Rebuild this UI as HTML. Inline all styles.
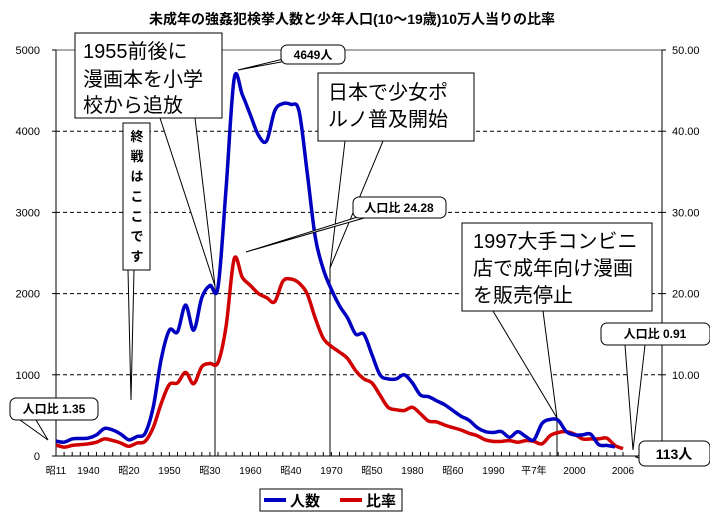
<!DOCTYPE html>
<html><head><meta charset="utf-8"><style>
body{margin:0;background:#fff}
svg{display:block;font-family:"Liberation Sans","Noto Sans CJK JP",sans-serif}
</style></head><body>
<svg id="chart" width="710" height="523" viewBox="0 0 710 523" xmlns="http://www.w3.org/2000/svg">
<text x="352" y="24" text-anchor="middle" font-size="14" font-weight="bold">未成年の強姦犯検挙人数と少年人口(10～19歳)10万人当りの比率</text>
<g id="grid"></g>
<g id="axes"></g>
<g id="series"></g>
<g id="notes"></g>
<g>
<rect x="260" y="489" width="142" height="22" fill="#fff" stroke="#000"/>
<line x1="264" y1="500" x2="286" y2="500" stroke="#0000c0" stroke-width="4"/>
<text x="290" y="506" font-size="15" font-weight="bold">人数</text>
<line x1="340" y1="500" x2="362" y2="500" stroke="#d00000" stroke-width="4"/>
<text x="366" y="506" font-size="15" font-weight="bold">比率</text>
</g>
</svg>
<script>
const years = [];
for (let y = 1936; y <= 2006; y++) years.push(y);
const people = [184,170,210,215,220,260,340,320,270,200,240,280,600,1200,1550,1530,1860,1550,1950,2100,2080,3300,4649,4450,4200,3950,3880,4250,4340,4330,4250,3500,2700,2300,2050,1850,1700,1500,1500,1250,1000,950,950,1000,900,750,730,680,630,560,490,440,350,300,290,300,230,300,240,200,400,450,440,300,260,260,270,140,130,113];
const ratio = [1.35,1.1,1.3,1.4,1.5,1.7,2.1,1.9,1.6,1.2,1.6,1.8,3.5,6.5,8.8,9.0,10.3,8.9,11.0,11.4,11.5,16,24.28,22,21,20,19.5,19.0,21.5,21.8,21.3,20,17,14.5,13.5,12.8,12,10.5,9.5,9.0,7.5,6,5.7,5.6,6.0,5.2,4.3,4.2,3.8,3.5,3.2,2.8,2.5,2.0,1.8,1.8,1.9,1.7,1.9,1.8,1.5,2.5,2.9,3.0,2.7,2.1,2.1,2.1,2.2,1.3,0.91];
const leftTicks = [0,1000,2000,3000,4000,5000];
const rightTicks = ["","10.00","20.00","30.00","40.00","50.00"];
const xLabels = ["昭11","1940","昭20","1950","昭30","1960","昭40","1970","昭50","1980","昭60","1990","平7年","2000","2006"];
const xLabelYears = [1936,1940,1945,1950,1955,1960,1965,1970,1975,1980,1985,1990,1995,2000,2006];
const L=56,R=662,T=50,B=456;
const X = y => 56 + (y-1936)*8.1;
const Y = v => B - v/5000*(B-T);
const YR = v => B - v/50*(B-T);
const NS="http://www.w3.org/2000/svg";
function mk(tag, attrs, parent, text){const e=document.createElementNS(NS,tag);for(const k in attrs)e.setAttribute(k,attrs[k]);if(text!==undefined)e.textContent=text;parent.appendChild(e);return e;}
function smooth(pts){let d='M'+pts[0][0].toFixed(1)+','+pts[0][1].toFixed(1);
  for(let i=0;i<pts.length-1;i++){const p0=pts[Math.max(0,i-1)],p1=pts[i],p2=pts[i+1],p3=pts[Math.min(pts.length-1,i+2)];
    const c1=[p1[0]+(p2[0]-p0[0])/6,p1[1]+(p2[1]-p0[1])/6],c2=[p2[0]-(p3[0]-p1[0])/6,p2[1]-(p3[1]-p1[1])/6];
    d+='C'+c1[0].toFixed(1)+','+c1[1].toFixed(1)+' '+c2[0].toFixed(1)+','+c2[1].toFixed(1)+' '+p2[0].toFixed(1)+','+p2[1].toFixed(1);}
  return d;}
const grid=document.getElementById('grid'), axes=document.getElementById('axes'), series=document.getElementById('series'), notes=document.getElementById('notes');
leftTicks.forEach((v,i)=>{
  const y=Y(v);
  if(v>0&&v<5000){const g=mk('line',{x1:L,x2:R,y1:y,y2:y,stroke:'#000','stroke-dasharray':'4,3','stroke-width':1},grid);
  
  }
  const t=mk('text',{x:40,y:y+4,'text-anchor':'end','font-size':11},axes,String(v));
  
  
  if(rightTicks[i]){const r=mk('text',{x:672,y:y+4,'font-size':11},axes,rightTicks[i]);
  
  }
  mk('line',{x1:L-4,x2:L,y1:y,y2:y,stroke:'#000'},axes);
  mk('line',{x1:R,x2:R+4,y1:y,y2:y,stroke:'#000'},axes);
});
mk('line',{x1:L,x2:R,y1:T,y2:T,stroke:'#555'},axes);
mk('line',{x1:L,x2:L,y1:T,y2:B,stroke:'#000'},axes);
mk('line',{x1:R,x2:R,y1:T,y2:B,stroke:'#000'},axes);
mk('line',{x1:L,x2:R,y1:B,y2:B,stroke:'#000'},axes);
years.forEach(y=>mk('line',{x1:X(y),x2:X(y),y1:B-4,y2:B,stroke:'#000'},axes));
xLabels.forEach((s,i)=>{const t=mk('text',{x:X(xLabelYears[i]),y:474,'text-anchor':'middle','font-size':10},axes,s);
  
  });
mk('line',{x1:215,x2:215,y1:B,y2:286,stroke:'#000'},axes);
mk('line',{x1:330,x2:330,y1:B,y2:268,stroke:'#000'},axes);
mk('line',{x1:557,x2:557,y1:B,y2:418,stroke:'#000'},axes);
const pPath=smooth(people.map((v,i)=>[X(years[i]),Y(v)]));
const rPath=smooth(ratio.map((v,i)=>[X(years[i]),YR(v)]));
const rl=mk('path',{d:rPath,fill:'none',stroke:'#d00000','stroke-width':3.5,'stroke-linejoin':'round'},series);


const pl=mk('path',{d:pPath,fill:'none',stroke:'#0000c0','stroke-width':3.5,'stroke-linejoin':'round'},series);


function poly(pts){mk('polyline',{points:pts,fill:'#fff',stroke:'#000'},notes);}
poly('160,118 215,286 195,118');
poly('128,270 131,400 134,270');
poly('300,55 238,70 292,60');
poly('345,141 330,268 383,141');
poly('380,210 246,252 378,214');
poly('493,311 557,418 543,311');
poly('625,345 633,450 645,345');
poly('20,420 48,440 36,420');
poly('645,452 636,457 645,460');
function box(x,y,w,h,rx,name){const b=mk('rect',{x:x,y:y,width:w,height:h,rx:rx,fill:'#fff',stroke:'#000'},notes);
  
  }
box(75,33,147,85,0,'note-1955');
box(123,123,27,147,0,'note-war-end');
box(281,45,64,19,6,'note-peak');
box(318,73,156,68,0,'note-1970');
box(353,197,93,21,6,'note-ratio-peak');
box(462,223,190,88,0,'note-1997');
box(601,323,109,22,6,'note-ratio-end');
box(10,398,88,22,6,'note-ratio-start');
box(639,441,71,25,6,'note-end-count');
function txt(x,y,s,sz,bold,anchor){mk('text',{x:x,y:y,'font-size':sz,'font-weight':bold?'bold':'normal','text-anchor':anchor||'start'},notes,s);}
txt(83,58,'1955前後に',20,false);txt(83,86,'漫画本を小学',20,false);txt(83,112,'校から追放',20,false);
['終','戦','は','こ','こ','で','す'].forEach((c,i)=>txt(137,141+i*20,c,13,true,'middle'));
txt(313,59,'4649人',12,true,'middle');
txt(328,99,'日本で少女ポ',20,false);txt(328,126,'ルノ普及開始',20,false);
txt(399,212,'人口比 24.28',12,true,'middle');
txt(473,248,'1997大手コンビニ',20,false);txt(473,275,'店で成年向け漫画',20,false);txt(473,302,'を販売停止',20,false);
txt(655,338,'人口比 0.91',12,true,'middle');
txt(54,413,'人口比 1.35',12,true,'middle');
txt(674,459,'113人',14,true,'middle');
</script>
</body></html>
